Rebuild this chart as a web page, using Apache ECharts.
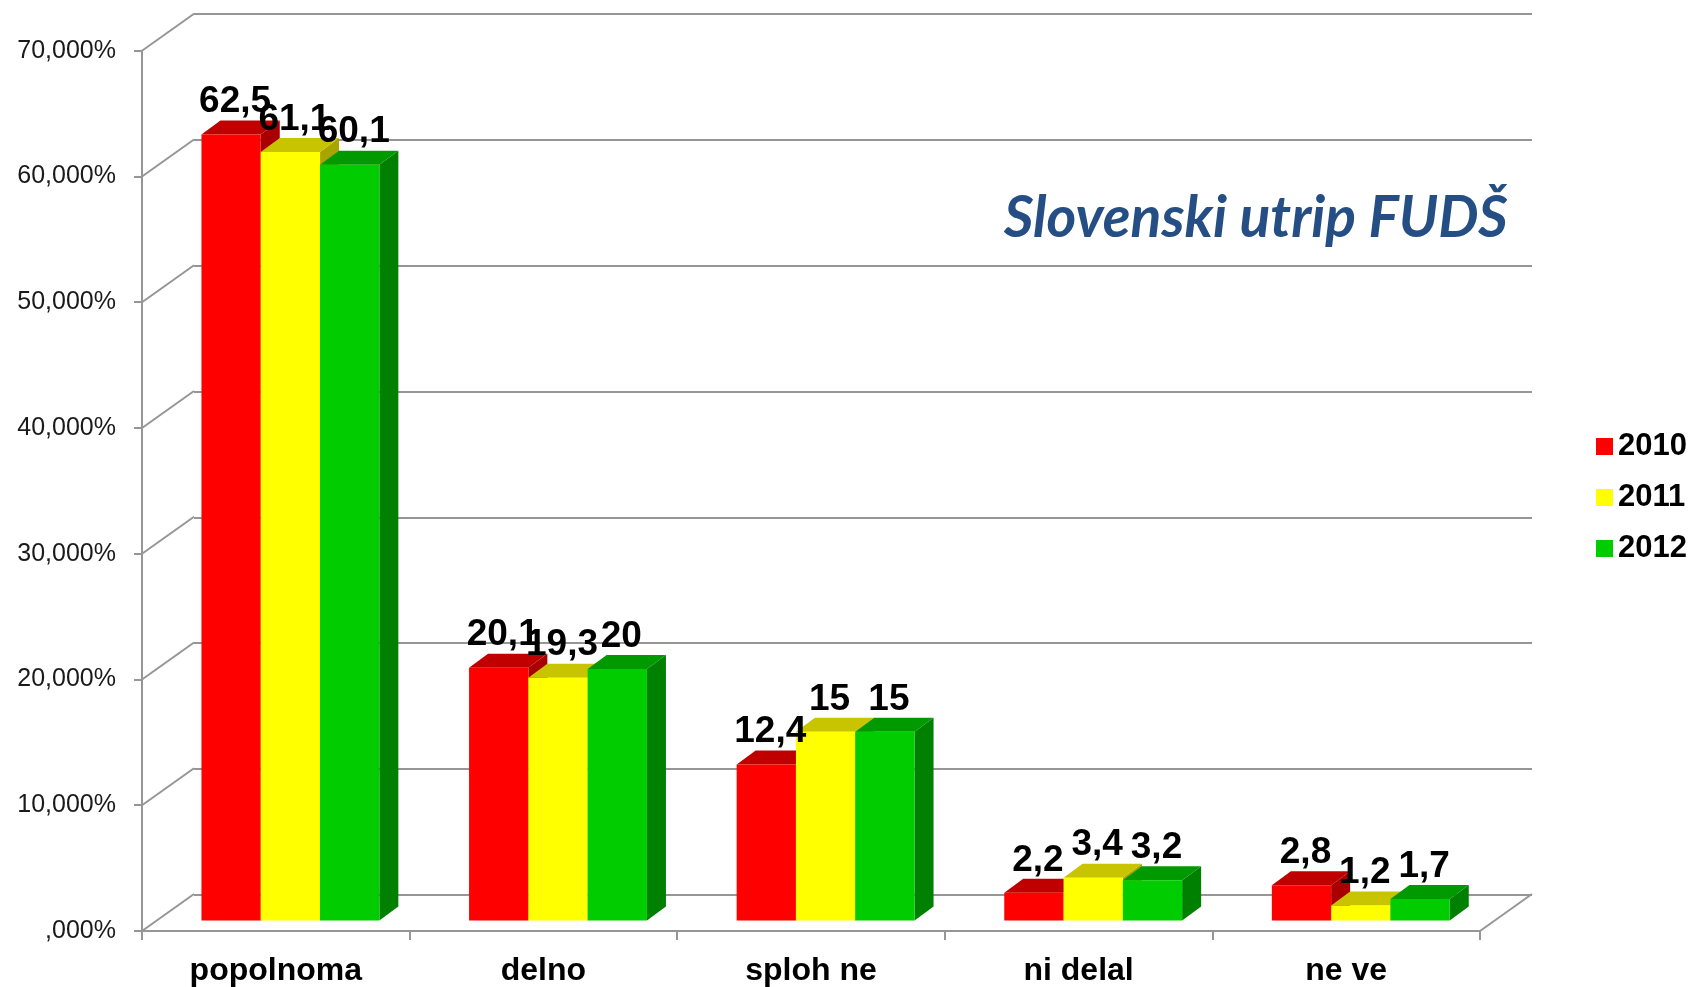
<!DOCTYPE html>
<html>
<head>
<meta charset="utf-8">
<title>Slovenski utrip FUDŠ</title>
<script src="https://cdn.jsdelivr.net/npm/echarts@6.0.0/dist/echarts.min.js"></script>
<style>
    html, body { margin: 0; padding: 0; background: #fff; }
    #chart { width: 1690px; height: 987px; }
</style>
</head>
<body>
<div id="chart"></div>
<script>
    // podatki
    var categories = ['popolnoma', 'delno', 'sploh ne', 'ni delal', 'ne ve'];
    var years = ['2010', '2011', '2012'];
    var y2010 = [62.5, 20.1, 12.4, 2.2, 2.8];
    var y2011 = [61.1, 19.3, 15, 3.4, 1.2];
    var y2012 = [60.1, 20, 15, 3.2, 1.7];
    var yTicks = [0, 10, 20, 30, 40, 50, 60, 70];

    // 3D izgled
    var WALL_DX = 52, WALL_DY = -37;      // globina stene
    var BAR_SHIFT_X = 14.6, BAR_SHIFT_Y = -10.5;  // stolpci stojijo malo za sprednjim robom tal
    var BAR_DX = 19, BAR_DY = -14;        // globina stolpca
    var BAR_FRAC = 0.2216;
    var GRID_COLOR = '#969696';

    var faces = [
        { front: '#ff0000', top: '#c00000', side: '#a80000' },
        { front: '#ffff00', top: '#c8c400', side: '#a8a400' },
        { front: '#00cc00', top: '#009a00', side: '#008000' }
    ];

    function fmt(v) {
        return String(v).replace('.', ',');
    }

    function barRenderer(idx) {
        var c = faces[idx];
        return function (params, api) {
            var cat = api.value(0), val = api.value(1);
            var top = api.coord([cat, val]);
            var base = api.coord([cat, 0]);
            var band = api.size([1, 0])[0];
            var w = band * BAR_FRAC;
            var x0 = top[0] - 1.5 * w + idx * w + BAR_SHIFT_X;
            var x1 = x0 + w;
            var yt = top[1] + BAR_SHIFT_Y;
            var yb = base[1] + BAR_SHIFT_Y;
            return {
                type: 'group',
                children: [
                    {
                        type: 'polygon',
                        shape: { points: [[x1, yt], [x1 + BAR_DX, yt + BAR_DY], [x1 + BAR_DX, yb + BAR_DY], [x1, yb]] },
                        style: { fill: c.side }
                    },
                    {
                        type: 'polygon',
                        shape: { points: [[x0, yt], [x0 + BAR_DX, yt + BAR_DY], [x1 + BAR_DX, yt + BAR_DY], [x1, yt]] },
                        style: { fill: c.top }
                    },
                    {
                        type: 'rect',
                        shape: { x: x0, y: yt, width: w, height: yb - yt },
                        style: { fill: c.front }
                    },
                    {
                        type: 'text',
                        z2: 100,
                        style: {
                            text: fmt(val),
                            x: (x0 + x1) / 2 + 4,
                            y: yt - 14,
                            align: 'center',
                            verticalAlign: 'bottom',
                            textAlign: 'center',
                            textVerticalAlign: 'bottom',
                            fill: '#000',
                            font: 'bold 37px "Liberation Sans", Arial, sans-serif'
                        }
                    }
                ]
            };
        };
    }

    function wallRenderer(params, api) {
        var v = api.value(1);
        var p = api.coord([0, v]);
        var band = api.size([1, 0])[0];
        var x = p[0] - band / 2;
        var children = [{
            type: 'line',
            shape: { x1: x, y1: p[1], x2: x + WALL_DX, y2: p[1] + WALL_DY },
            style: { stroke: GRID_COLOR, lineWidth: 2 }
        }];
        if (v === 0) {
            var r = api.coord([categories.length - 1, 0])[0] + band / 2;
            children.push({
                type: 'line',
                shape: { x1: r, y1: p[1], x2: r + WALL_DX, y2: p[1] + WALL_DY },
                style: { stroke: GRID_COLOR, lineWidth: 2 }
            });
        }
        return { type: 'group', children: children };
    }

    var seriesData = [y2010, y2011, y2012];
    var series = [{
        type: 'custom',
        name: 'wall',
        xAxisIndex: 0,
        yAxisIndex: 0,
        z: 1,
        silent: true,
        renderItem: wallRenderer,
        data: yTicks.map(function (v) { return [0, v]; })
    }];
    years.forEach(function (y, i) {
        series.push({
            type: 'custom',
            name: y,
            xAxisIndex: 0,
            yAxisIndex: 0,
            z: 3,
            clip: false,
            itemStyle: { color: faces[i].front },
            renderItem: barRenderer(i),
            data: seriesData[i].map(function (v, k) { return [k, v]; })
        });
    });

    var option = {
        animation: false,
        backgroundColor: '#fff',
        title: {
            text: 'Slovenski utrip FUDŠ',
            left: 999,
            top: 185,
            textStyle: {
                color: '#254e85',
                fontStyle: 'italic',
                fontWeight: 'bold',
                fontFamily: 'Lato',
                fontSize: 57
            }
        },
        legend: {
            data: years,
            orient: 'vertical',
            left: 1591,
            top: 426,
            icon: 'rect',
            itemWidth: 17,
            itemHeight: 17,
            itemGap: 20,
            textStyle: {
                color: '#000',
                fontWeight: 'bold',
                fontSize: 31,
                fontFamily: 'Liberation Sans'
            }
        },
        grid: [
            { left: 142, top: 50.7, width: 1338, height: 881.3 },
            { left: 142 + WALL_DX, top: 50.7 + WALL_DY, width: 1338, height: 881.3 }
        ],
        xAxis: [
            {
                type: 'category',
                gridIndex: 0,
                data: categories,
                axisLine: { lineStyle: { color: GRID_COLOR, width: 2 } },
                axisTick: { show: true, interval: 0, length: 9, lineStyle: { color: GRID_COLOR, width: 2 } },
                axisLabel: {
                    interval: 0,
                    margin: 24,
                    color: '#000',
                    fontWeight: 'bold',
                    fontSize: 32,
                    fontFamily: 'Liberation Sans'
                }
            },
            {
                type: 'category',
                gridIndex: 1,
                data: categories,
                show: false
            }
        ],
        yAxis: [
            {
                type: 'value',
                gridIndex: 0,
                min: 0,
                max: 70,
                interval: 10,
                axisLine: { show: true, lineStyle: { color: GRID_COLOR, width: 2 } },
                axisTick: { show: true, length: 8, lineStyle: { color: GRID_COLOR, width: 2 } },
                splitLine: { show: false },
                axisLabel: {
                    margin: 26,
                    color: '#1a1a1a',
                    fontSize: 25,
                    fontFamily: 'Liberation Sans',
                    formatter: function (v) { return (v === 0 ? '' : v) + ',000%'; }
                }
            },
            {
                type: 'value',
                gridIndex: 1,
                min: 0,
                max: 70,
                interval: 10,
                axisLine: { show: false },
                axisTick: { show: false },
                axisLabel: { show: false },
                splitLine: { show: true, lineStyle: { color: GRID_COLOR, width: 2 } }
            }
        ],
        series: series
    };

    var chart = echarts.init(document.getElementById('chart'));
    chart.setOption(option);
</script>
</body>
</html>
